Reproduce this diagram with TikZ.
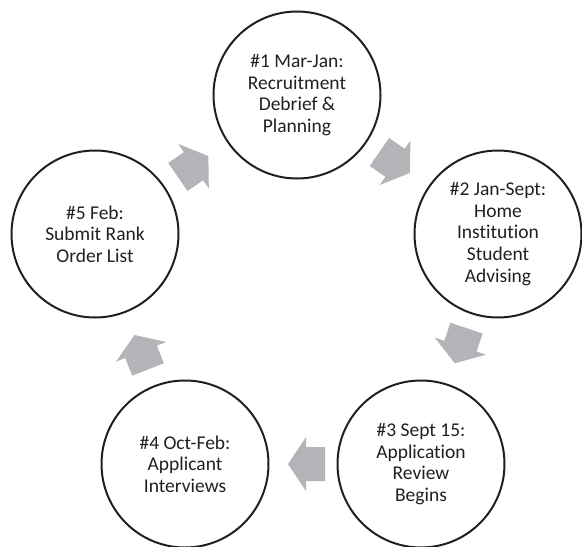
\documentclass[tikz,border=0pt]{standalone}
\usepackage{fontspec}
\setmainfont{Carlito}[Ligatures={NoCommon,NoContextual}]
\usetikzlibrary{calc}
\definecolor{arrowgray}{RGB}{179,180,183}
\definecolor{ink}{RGB}{35,31,32}
\begin{document}
\begin{tikzpicture}[x=1pt,y=-1pt,
  stage/.style={circle,draw=ink,line width=2pt,minimum size=167pt,inner sep=0pt,align=center,
    font=\fontsize{19.5}{21.6}\selectfont,text=ink},
  barrow/.pic={\fill[arrowgray] (-22,-17) -- (-3,-17) -- (-3,-27) -- (15,0) -- (-3,27) -- (-3,17) -- (-22,17) -- cycle;}]
\useasboundingbox (0,0) rectangle (582,547);
\node[stage] (c1) at (297,95) {\#1 Mar-Jan:\\Recruitment\\Debrief \&\\Planning};
\node[stage] (c2) at (498,234) {\#2 Jan-Sept:\\Home\\Institution\\Student\\Advising};
\node[stage] (c3) at (421,464) {\#3 Sept 15:\\Application\\Review\\Begins};
\node[stage] (c4) at (185,464) {\#4 Oct-Feb:\\Applicant\\Interviews};
\node[stage] (c5) at (95,234) {\#5 Feb:\\Submit Rank\\Order List};
\foreach \a/\b in {c1/c2,c2/c3,c3/c4,c4/c5,c5/c1}
  \path let \p1=($(\b)-(\a)$), \n1={atan2(\y1,\x1)} in ($(\a)!0.5!(\b)$) pic[rotate=\n1]{barrow};
\end{tikzpicture}
\end{document}
